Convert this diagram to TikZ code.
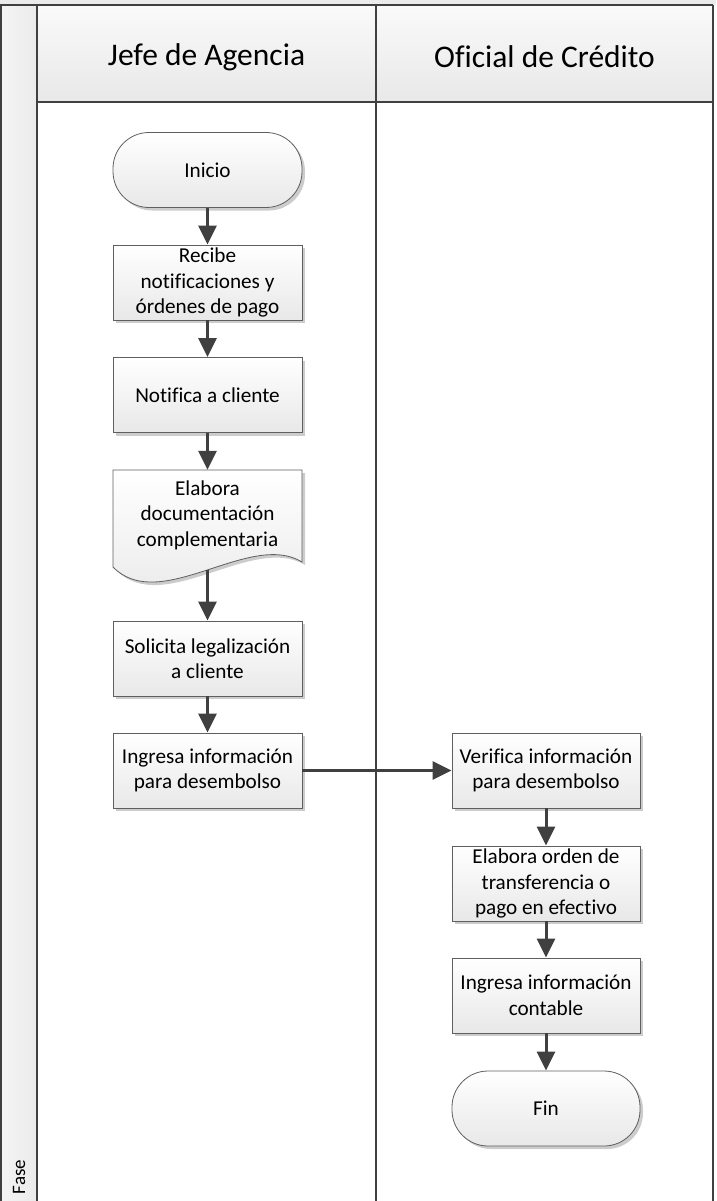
\documentclass[tikz,border=0pt]{standalone}
\usepackage{fontspec}
\setmainfont{Carlito}[Ligatures=NoCommon]
\usetikzlibrary{arrows.meta,shadows}

\definecolor{lanegray}{HTML}{404040}
\definecolor{boxedge}{HTML}{5F5F5F}
\definecolor{arrowgray}{HTML}{404040}

\begin{document}
\begin{tikzpicture}[x=1pt,y=-1pt,
  lane/.style={draw=lanegray,line width=1.6pt},
  boxshadow/.style={drop shadow={shadow xshift=3pt,shadow yshift=-3pt,fill=black!20,opacity=1}},
  stepbox/.style={draw=boxedge,line width=0.8pt,top color=white,bottom color=black!9,
    minimum width=189pt,minimum height=75pt,inner sep=2pt,align=center,
    font=\fontsize{21.2}{25.5}\selectfont,boxshadow},
  term/.style={stepbox,rounded corners=36pt},
  doctext/.style={minimum width=189pt,minimum height=90pt,inner sep=2pt,align=center,
    font=\fontsize{21.2}{25.5}\selectfont},
  flow/.style={draw=arrowgray,line width=3pt,-{Triangle[length=19pt,width=18pt]}},
  header/.style={font=\fontsize{31.5}{36}\selectfont},
]
\useasboundingbox (0,0) rectangle (716,1201);

% pool background: title strip, header row and phase strip
\fill[black!8] (0,0) rectangle (716,5);
\shade[top color=black!2,bottom color=black!9] (37,5) rectangle (713,102);
\shade[left color=black!4,right color=black!8] (0,5) rectangle (37,1201);

% lane borders
\draw[lane] (0,5) -- (713,5);
\draw[lane] (0.8,5) -- (0.8,1201);
\draw[lane] (37,5) -- (37,1201);
\draw[lane] (376,5) -- (376,1201);
\draw[lane] (713,5) -- (713,1201);
\draw[lane] (37,102) -- (713,102);

% lane titles
\node[header] (hjefe) at (206.5,57) {Jefe de Agencia};
\node[header] (hofic) at (544.5,57) {Oficial de Crédito};
\node[rotate=90,font=\fontsize{19}{21}\selectfont] (fase) at (19,1177) {Fase};

% Jefe de Agencia
\node[term] (ini) at (207.5,170) {Inicio};
\node[stepbox] (rec) at (207.5,282.5) {Recibe\\notificaciones y\\órdenes de pago};
\node[stepbox] (notif) at (207.5,395) {Notifica a cliente};

% document shape with wavy bottom edge
\path[draw=boxedge,line width=0.8pt,top color=white,bottom color=black!9,boxshadow]
  (113,470) -- (302,470) -- (302,562)
  .. controls (250,530) and (160,615) .. (113,567) -- cycle;
\node[doctext] (doc) at (207.5,515) {Elabora\\documentación\\complementaria};
\coordinate (docb) at (207.5,570);

\node[stepbox] (sol) at (207.5,658.5) {Solicita legalización\\a cliente};
\node[stepbox] (ing) at (207.5,770.5) {Ingresa información\\para desembolso};

% Oficial de Credito
\node[stepbox,minimum width=188pt] (ver) at (546,770.5) {Verifica información\\para desembolso};
\node[stepbox,minimum width=188pt] (ord) at (546,883.5) {Elabora orden de\\transferencia o\\pago en efectivo};
\node[stepbox,minimum width=188pt] (cont) at (546,995.5) {Ingresa información\\contable};
\node[term,minimum width=188pt] (fin) at (546,1108.5) {Fin};

% connectors
\draw[flow] (ini) -- (rec);
\draw[flow] (rec) -- (notif);
\draw[flow] (notif) -- (doc.north);
\draw[flow] (docb) -- (sol);
\draw[flow] (sol) -- (ing);
\draw[flow] (ing) -- (ver);
\draw[flow] (ver) -- (ord);
\draw[flow] (ord) -- (cont);
\draw[flow] (cont) -- (fin);
\end{tikzpicture}
\end{document}
